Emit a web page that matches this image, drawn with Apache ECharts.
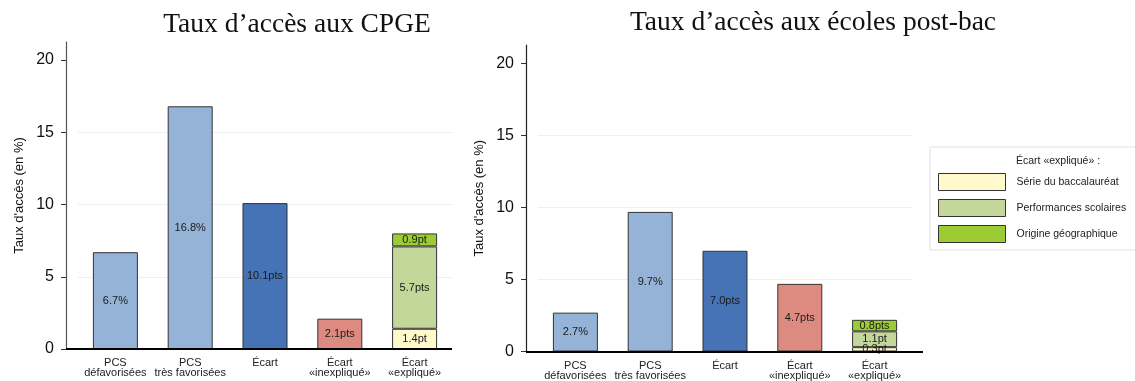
<!DOCTYPE html>
<html><head><meta charset="utf-8">
<script src="https://cdn.jsdelivr.net/npm/echarts@6/dist/echarts.min.js"></script>
<style>html,body{margin:0;padding:0;background:#fff}#c{width:1135px;height:381px}</style>
</head><body><div id="c"></div>
<script>
const categories = ['PCS\ndéfavorisées', 'PCS\ntrès favorisées', 'Écart', 'Écart\n«inexpliqué»', 'Écart\n«expliqué»'];
const titles = ['Taux d’accès aux CPGE', 'Taux d’accès aux écoles post-bac'];
const yAxisName = "Taux d'accès (en %)";
const yTicks = [0, 5, 10, 15, 20];
const gridValues = [5, 10, 15];
const cpgeMain = [6.7, 16.8, 10.1, 2.1];
const cpgeMainLabels = ['6.7%', '16.8%', '10.1pts', '2.1pts'];
const cpgeExplained = [1.4, 5.7, 0.9];
const cpgeExplainedLabels = ['1.4pt', '5.7pts', '0.9pt'];
const ecolesMain = [2.7, 9.7, 7.0, 4.7];
const ecolesMainLabels = ['2.7%', '9.7%', '7.0pts', '4.7pts'];
const ecolesExplained = [0.3, 1.1, 0.8];
const ecolesExplainedLabels = ['0.3pt', '1.1pt', '0.8pts'];
const explainedNames = ['Série du baccalauréat', 'Performances scolaires', 'Origine géographique'];
const legendTitle = 'Écart «expliqué» :';

const mainColors = ['#95b3d7', '#95b3d7', '#4573b5', '#dd8a80'];
const explainedColors = ['#fff9cc', '#c4d79b', '#9bcc33'];
const FONT = 'Liberation Sans, Arial, sans-serif';

const panels = [
  {main: cpgeMain, mainLabels: cpgeMainLabels, expl: cpgeExplained, explLabels: cpgeExplainedLabels,
   grid: {left: 78, width: 374, top: 42, height: 307}, max: 21.25},
  {main: ecolesMain, mainLabels: ecolesMainLabels, expl: ecolesExplained, explLabels: ecolesExplainedLabels,
   grid: {left: 538, width: 374, top: 45, height: 307}, max: 21.3}
];

const grids = [], xAxes = [], yAxes = [], series = [];
panels.forEach((p, g) => {
  grids.push(p.grid);
  xAxes.push({
    type: 'category', gridIndex: g, data: categories,
    axisLine: {show: false},
    axisTick: {show: false},
    axisLabel: {color: '#222', fontFamily: FONT, fontSize: 11, lineHeight: 10, margin: 9, interval: 0}
  });
  yAxes.push({
    type: 'value', gridIndex: g, min: 0, max: p.max, offset: 12,
    name: yAxisName, nameLocation: 'middle', nameGap: 40,
    nameTextStyle: {color: '#111', fontFamily: FONT, fontSize: 13},
    axisLine: {show: true, lineStyle: {color: g === 0 ? '#555' : '#222', width: 1.2}},
    axisTick: {show: true, length: 5, customValues: yTicks, lineStyle: {color: '#333'}},
    axisLabel: {customValues: yTicks, color: '#111', fontFamily: FONT, fontSize: 16, margin: 12},
    splitLine: {show: false}
  });
  series.push({
    type: 'bar', name: 'main' + g, xAxisIndex: g, yAxisIndex: g, stack: 's' + g, barWidth: 45, z: 3,
    itemStyle: {borderColor: '#333', borderWidth: 1},
    label: {show: true, position: 'inside', color: '#1a1a1a', fontFamily: FONT, fontSize: 11,
      formatter: (d) => p.mainLabels[d.dataIndex]},
    markLine: {
      silent: true, symbol: 'none', z: 1, label: {show: false},
      lineStyle: {color: '#e9f1f3', width: 1.2, type: 'solid'},
      data: gridValues.map((v) => ({yAxis: v}))
    },
    data: p.main.map((v, i) => ({value: v, itemStyle: {color: mainColors[i]}})).concat(['-'])
  });
  p.expl.forEach((v, k) => {
    series.push({
      type: 'bar', name: explainedNames[k], xAxisIndex: g, yAxisIndex: g, stack: 's' + g, barWidth: 45, z: 3,
      itemStyle: {color: explainedColors[k], borderColor: '#333', borderWidth: 1},
      label: {show: true, position: 'inside', color: '#1a1a1a', fontFamily: FONT, fontSize: 11,
        formatter: () => p.explLabels[k]},
      data: ['-', '-', '-', '-', v]
    });
  });
});

const chart = echarts.init(document.getElementById('c'), null, {renderer: 'canvas'});
chart.setOption({
  animation: false,
  backgroundColor: '#fff',
  grid: grids, xAxis: xAxes, yAxis: yAxes, series: series,
  legend: {
    data: explainedNames, orient: 'vertical', left: 930, top: 147,
    itemWidth: 67, itemHeight: 17, itemGap: 8, selectedMode: false,
    borderColor: '#e2e2e2', borderWidth: 1, padding: [26, 14, 7, 8],
    icon: 'rect',
    itemStyle: {borderColor: '#333', borderWidth: 1},
    textStyle: {color: '#222', fontFamily: FONT, fontSize: 10.5, padding: [0, 0, 0, 6]}
  },
  graphic: [
    {type: 'text', x: 297, y: 11, style: {text: titles[0], font: '27.5px "Liberation Serif", serif', fill: '#111', textAlign: 'center', textVerticalAlign: 'top'}},
    {type: 'text', x: 813, y: 9, style: {text: titles[1], font: '27.5px "Liberation Serif", serif', fill: '#111', textAlign: 'center', textVerticalAlign: 'top'}},
    {type: 'text', x: 1016, y: 161, style: {text: legendTitle, font: '10.5px "Liberation Sans", Arial, sans-serif', fill: '#222', textAlign: 'left', textVerticalAlign: 'middle'}},
    {type: 'line', shape: {x1: 66, y1: 349, x2: 452, y2: 349}, style: {stroke: '#000', lineWidth: 1.8}, z: 10},
    {type: 'line', shape: {x1: 526, y1: 352, x2: 923, y2: 352}, style: {stroke: '#000', lineWidth: 1.8}, z: 10}
  ]
});
</script></body></html>
